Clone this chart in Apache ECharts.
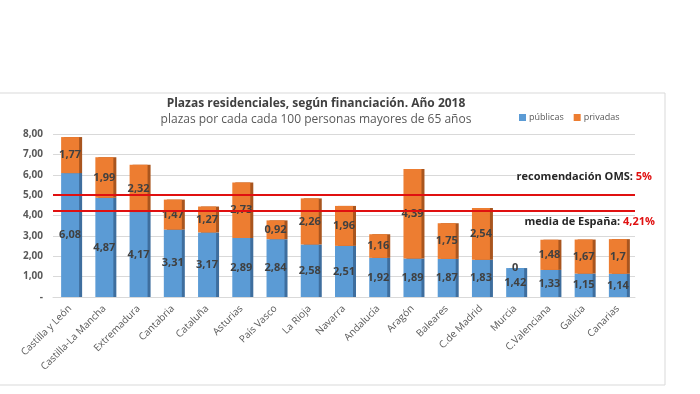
<!DOCTYPE html>
<html><head><meta charset="utf-8">
<script src="https://cdn.jsdelivr.net/npm/echarts@6/dist/echarts.min.js"></script>
<style>html,body{margin:0;padding:0;background:#fff}#c{width:700px;height:394px}</style>
</head><body><div id="c"></div>
<script>
const categories = ['Castilla y León','Castilla-La Mancha','Extremadura','Cantabria','Cataluña','Asturias','País Vasco','La Rioja','Navarra','Andalucía','Aragón','Baleares','C.de Madrid','Murcia','C.Valenciana','Galicia','Canarias'];
const publicas = [6.08,4.87,4.17,3.31,3.17,2.89,2.84,2.58,2.51,1.92,1.89,1.87,1.83,1.42,1.33,1.15,1.14];
const privadas = [1.77,1.99,2.32,1.47,1.27,2.73,0.92,2.26,1.96,1.16,4.39,1.75,2.54,0,1.48,1.67,1.7];
const omsValue = 5;
const mediaValue = 4.21;

const fmt = v => String(v).replace('.', ',');
const chart = echarts.init(document.getElementById('c'));
const lbl = {show:true, position:'inside', color:'#404040', fontSize:11, fontWeight:'bold', fontFamily:'Open Sans', formatter:p=>fmt(p.value)};
chart.setOption({
  animation:false,
  title:{text:'Plazas residenciales, según financiación. Año 2018', subtext:'plazas por cada cada 100 personas mayores de 65 años',
    left:311, top:93, textAlign:'center', itemGap:4,
    textStyle:{fontSize:12, fontWeight:'bold', color:'#404040', fontFamily:'Open Sans'},
    subtextStyle:{fontSize:12, color:'#595959', fontFamily:'Open Sans'}},
  legend:{left:514, top:108, itemWidth:7, itemHeight:7, itemGap:10, icon:'rect',
    textStyle:{fontSize:9, color:'#595959', fontFamily:'Open Sans', padding:[0,0,0,-2]}},
  grid:{left:53, right:65, top:134, bottom:97},
  xAxis:{type:'category', data:categories,
    axisLine:{lineStyle:{color:'#D9D9D9'}}, axisTick:{show:false},
    axisLabel:{rotate:45, interval:0, fontSize:10, color:'#595959', fontFamily:'Open Sans', margin:10}},
  yAxis:{type:'value', min:0, max:8, interval:1,
    axisLabel:{fontSize:10, fontWeight:'bold', color:'#595959', fontFamily:'Open Sans', margin:10,
      formatter:v=> v===0 ? '-' : v.toFixed(2).replace('.', ',')},
    splitLine:{lineStyle:{color:'#D9D9D9'}}, axisLine:{show:false}, axisTick:{show:false}},
  series:[
    {name:'públicas', type:'bar', stack:'t', data:publicas, barWidth:18,
      itemStyle:{color:'#5B9BD5', shadowColor:'#3E6E9E', shadowOffsetX:3, shadowBlur:0}, label:lbl,
      markLine:{silent:true, symbol:'none', label:{show:false},
        lineStyle:{color:'#E01010', width:2, type:'solid'},
        data:[{yAxis:omsValue},{yAxis:mediaValue}]}},
    {name:'privadas', type:'bar', stack:'t', data:privadas, barWidth:18,
      itemStyle:{color:'#ED7D31', shadowColor:'#A9551E', shadowOffsetX:3, shadowBlur:0}, label:lbl}
  ],
  graphic:[
    {type:'rect', shape:{x:-2, y:93, width:667, height:292}, style:{fill:'none', stroke:'#D9D9D9', lineWidth:1}, silent:true, z:-1},
    {type:'text', right:48, top:171, z:100, style:{text:'{a|recomendación OMS: }{b|5%}', backgroundColor:'#fff',
      rich:{a:{fontSize:11, fontWeight:'bold', fill:'#262626', fontFamily:'Open Sans'}, b:{fontSize:11, fontWeight:'bold', fill:'#E01010', fontFamily:'Open Sans'}}}},
    {type:'text', right:45, top:216, z:100, style:{text:'{a|media de España: }{b|4,21%}', backgroundColor:'#fff',
      rich:{a:{fontSize:11, fontWeight:'bold', fill:'#262626', fontFamily:'Open Sans'}, b:{fontSize:11, fontWeight:'bold', fill:'#E01010', fontFamily:'Open Sans'}}}}
  ]
});
</script></body></html>
